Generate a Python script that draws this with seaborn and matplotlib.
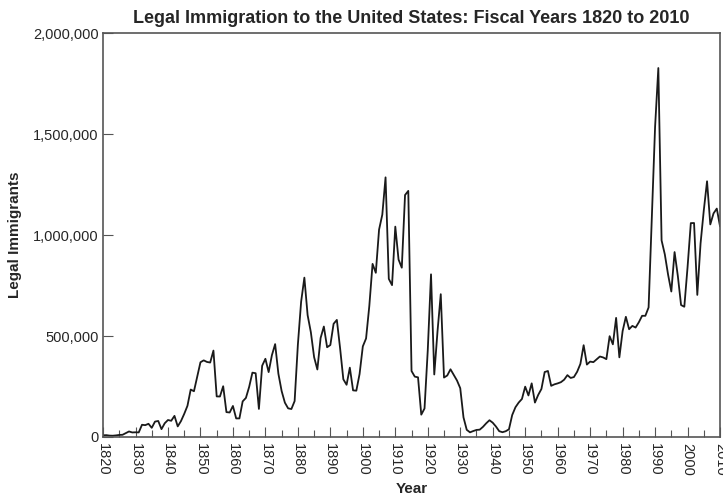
import pandas as pd
import seaborn as sns
import matplotlib.pyplot as plt
from matplotlib.ticker import FuncFormatter, MultipleLocator

# Legal immigrants per fiscal year, 1820-2010
years = list(range(1820, 2011))
immigrants = [
    8385, 9127, 6911, 6354, 7912, 10199, 10837, 18875, 27382, 22520,
    23322, 22633, 60482, 58640, 65365, 45374, 76242, 79340, 38914, 68069,
    84066, 80289, 104565, 52496, 78615, 114371, 154416, 234968, 226527, 297024,
    369980, 379466, 371603, 368645, 427833, 200877, 200436, 251306, 123126, 121282,
    153640, 91918, 91985, 176282, 193418, 248120, 318568, 315722, 138840, 352768,
    387203, 321350, 404806, 459803, 313339, 227498, 169986, 141857, 138469, 177826,
    457257, 669431, 788992, 603322, 518592, 395346, 334203, 490109, 546889, 444427,
    455302, 560319, 579663, 439730, 285631, 258536, 343267, 230832, 229299, 311715,
    448572, 487918, 648743, 857046, 812870, 1026499, 1100735, 1285349, 782870, 751786,
    1041570, 878587, 838172, 1197892, 1218480, 326700, 298826, 295403, 110618, 141132,
    430001, 805228, 309556, 522919, 706896, 294314, 304488, 335175, 307255, 279678,
    241700, 97139, 35576, 23068, 29470, 34956, 36329, 50244, 67895, 82998,
    70756, 51776, 28781, 23725, 28551, 38119, 108721, 147292, 170570, 188317,
    249187, 205717, 265520, 170434, 208177, 237790, 321625, 326867, 253265, 260686,
    265398, 271344, 283763, 306260, 292248, 296697, 323040, 361972, 454448, 358579,
    373326, 370478, 384685, 398515, 393919, 385378, 499093, 458755, 589810, 394244,
    524295, 595014, 533624, 550052, 541811, 568149, 600027, 599889, 641346, 1090172,
    1535872, 1826595, 973445, 903916, 803993, 720177, 915560, 797847, 653206, 644787,
    841002, 1058902, 1059356, 703542, 957883, 1122257, 1266129, 1052415, 1107126, 1130818,
    1042625,
]

df = pd.DataFrame({"Year": years, "Legal Immigrants": immigrants})

sns.set_style("ticks")
plt.rcParams["font.family"] = ["Liberation Sans", "DejaVu Sans"]

fig = plt.figure(figsize=(7.23, 4.98), dpi=100)
ax = fig.add_axes([0.1425, 0.1225, 0.8534, 0.8112])

sns.lineplot(data=df, x="Year", y="Legal Immigrants", ax=ax,
             color="#1a1a1a", linewidth=1.3)

ax.set_xlim(1820, 2010)
ax.set_ylim(0, 2000000)
ax.xaxis.set_major_locator(MultipleLocator(10))
ax.xaxis.set_minor_locator(MultipleLocator(5))
ax.yaxis.set_major_locator(MultipleLocator(500000))
ax.yaxis.set_major_formatter(FuncFormatter(lambda v, p: f"{int(v):,}"))

ax.tick_params(axis="x", which="major", direction="in", length=7, width=0.8,
               color="#555555", labelrotation=270, labelsize=10.5, pad=4)
ax.tick_params(axis="x", which="minor", direction="in", length=5, width=0.8,
               color="#555555")
ax.tick_params(axis="y", direction="in", length=7, width=0.8,
               color="#555555", labelsize=10.5, pad=3)

for s in ax.spines.values():
    s.set_color("#555555")
    s.set_linewidth(1.2)

ax.set_title("Legal Immigration to the United States: Fiscal Years 1820 to 2010",
             fontsize=13, fontweight="bold", pad=7)
ax.set_xlabel("Year", fontsize=11, fontweight="bold", labelpad=5)
ax.set_ylabel("Legal Immigrants", fontsize=11, fontweight="bold", labelpad=8)

fig.savefig("out.png", dpi=100)
